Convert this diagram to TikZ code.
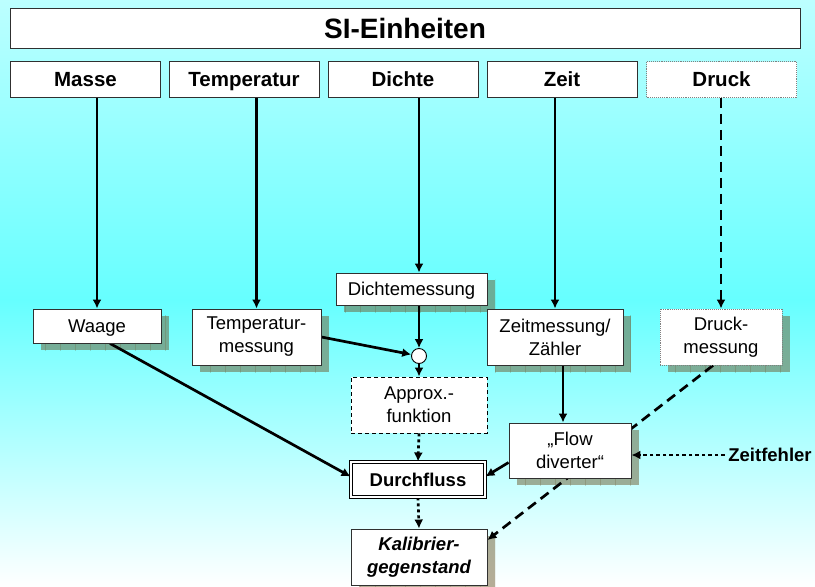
\documentclass[tikz,border=0pt]{standalone}
\usepackage{fontspec}
\setmainfont{Liberation Sans}
\usetikzlibrary{arrows.meta,calc}
\pgfdeclarelayer{backdrop}
\pgfdeclarelayer{shadow}
\pgfdeclarelayer{lines}
\pgfsetlayers{backdrop,shadow,lines,main}
\definecolor{cyanTop}{HTML}{BCFFFF}
\definecolor{cyanMid}{HTML}{66FFFF}
\definecolor{shadowOlive}{HTML}{6F5D31}
\definecolor{gridBrown}{HTML}{6E5A30}
\definecolor{frameGray}{HTML}{303030}

\begin{document}
\begin{tikzpicture}
[x=1pt,y=-1pt,
  titleDecorate/.style={draw=frameGray,fill=white,line width=0.9pt,minimum width=790pt,
    minimum height=40pt,inner sep=0pt,text height=20pt,text depth=0pt,
    font=\fontsize{28}{30}\selectfont\bfseries},
  headDecorate/.style={draw=frameGray,fill=white,line width=0.9pt,minimum width=150pt,
    minimum height=36pt,inner sep=0pt,text height=14.7pt,text depth=0pt,
    font=\fontsize{20.5}{23}\selectfont\bfseries},
  boxDecorate/.style={draw=frameGray,fill=white,line width=0.9pt,inner sep=0pt,
    align=center,font=\fontsize{18.5}{23}\selectfont},
  oneLine/.style={text height=13.3pt,text depth=0pt},
  lineDecorate/.style={line width=2.7pt,-{Latex[length=9pt,width=9pt]}},
  dashDecorate/.style={lineDecorate,dash pattern=on 10pt off 6pt},
  dotDecorate/.style={lineDecorate,dash pattern=on 3pt off 3pt}]
%% background
\useasboundingbox (0,0) rectangle (815,587);
\begin{pgfonlayer}{backdrop}
  \fill[top color=cyanTop,bottom color=cyanMid] (0,0) rectangle (815,300.5);
  \fill[top color=cyanMid,bottom color=white] (0,300) rectangle (815,587);
\end{pgfonlayer}
%% top rows
\node (si) at (405,28) [titleDecorate] {SI-Einheiten};
\foreach \nodename/\x/\txt in {
  masse/85.5/Masse, temperatur/244/Temperatur, dichte/403/Dichte, zeit/562/Zeit}
{
  \node (\nodename) at (\x,79.5) [headDecorate] {\txt};
}
\node (druck) at (721.5,79.5) [headDecorate,draw=gray,densely dotted] {Druck};
%% measuring boxes
\node (waage) at (97,326) [boxDecorate,oneLine,minimum width=128pt,minimum height=34pt] {Waage};
\node (dichtemess) at (411.5,289) [boxDecorate,oneLine,minimum width=151pt,minimum height=32pt] {Dichtemessung};
\foreach \nodename/\x/\y/\w/\h/\txt in {
  tempmess/256.5/337/129/56/{Temperatur-\\messung},
  zeitmess/555/337/136/56/{Zeitmessung/\\Zähler},
  flow/570/450.5/122/55/{„Flow\\diverter“}}
{
  \node (\nodename) at (\x,\y) [boxDecorate,minimum width=\w pt,minimum height=\h pt] {\txt};
}
\node (druckmess) at (721,337) [boxDecorate,draw=gray,densely dotted,
  minimum width=122pt,minimum height=56pt] {Druck-\\messung};
\node (approx) at (419,405) [boxDecorate,draw=black,dash pattern=on 4pt off 3pt,
  minimum width=136pt,minimum height=56pt] {Approx.-\\funktion};
\node (junc) at (419,356) [circle,draw=black,fill=white,line width=0.9pt,minimum size=15pt,inner sep=0pt] {};
\node (durch) at (418,479.5) [boxDecorate,oneLine,draw=black,double,double distance=2pt,line width=0.9pt,
  minimum width=134pt,minimum height=35pt,font=\fontsize{18.5}{23}\selectfont\bfseries] {Durchfluss};
\node (kalib) at (419,557) [boxDecorate,minimum width=136pt,minimum height=56pt,
  font=\fontsize{18.5}{23}\selectfont\bfseries\itshape] {Kalibrier-\\gegenstand};
\node (fehler) at (770,455) [font=\fontsize{18.5}{23}\selectfont\bfseries] {Zeitfehler};
%% shadows
\begin{pgfonlayer}{shadow}
\foreach \nodename in {waage,tempmess,dichtemess,zeitmess,druckmess,flow,kalib}
{
  \begin{scope}
    \clip ($(\nodename.north west)+(8,7)$) rectangle ($(\nodename.south east)+(8,7)$);
    \fill[shadowOlive,opacity=0.5] ($(\nodename.north west)+(8,7)$) rectangle ($(\nodename.south east)+(8,7)$);
    \draw[gridBrown,opacity=0.25,line width=0.6pt,step=15] (0,0) grid (815,587);
  \end{scope}
}
\end{pgfonlayer}
%% edges or lines
\begin{pgfonlayer}{lines}
\draw[lineDecorate] (waage.north |- masse.south) -- (waage.north);
\draw[lineDecorate] (tempmess.north |- temperatur.south) -- (tempmess.north);
\draw[lineDecorate] (junc |- dichte.south) -- (junc |- dichtemess.north);
\draw[lineDecorate] (zeitmess.north |- zeit.south) -- (zeitmess.north);
\draw[dashDecorate] (druckmess.north |- druck.south) -- (druckmess.north);
\draw[lineDecorate] (junc |- dichtemess.south) -- (junc);
\draw[lineDecorate] (tempmess.east) -- (junc);
\draw[lineDecorate] (junc) -- (approx.north);
\draw[dotDecorate] (approx.south) -- (durch.north);
\draw[dotDecorate] (durch.south) -- (kalib.north);
\draw[lineDecorate] ([xshift=13pt]waage.south) -- ([yshift=3pt]durch.west);
\draw[lineDecorate] ([xshift=-7pt]zeitmess.south -| flow.north) -- ([xshift=-7pt]flow.north);
\draw[lineDecorate] ([yshift=-12pt]flow.west) -- ([yshift=3pt]durch.east);
\draw[dashDecorate] ([xshift=-8pt]druckmess.south) -- ([yshift=17pt]kalib.east);
\draw[dotDecorate,dash pattern=on 3.5pt off 3pt] (fehler.west) -- (fehler.west -| flow.east);
\end{pgfonlayer}
\end{tikzpicture}
\end{document}
